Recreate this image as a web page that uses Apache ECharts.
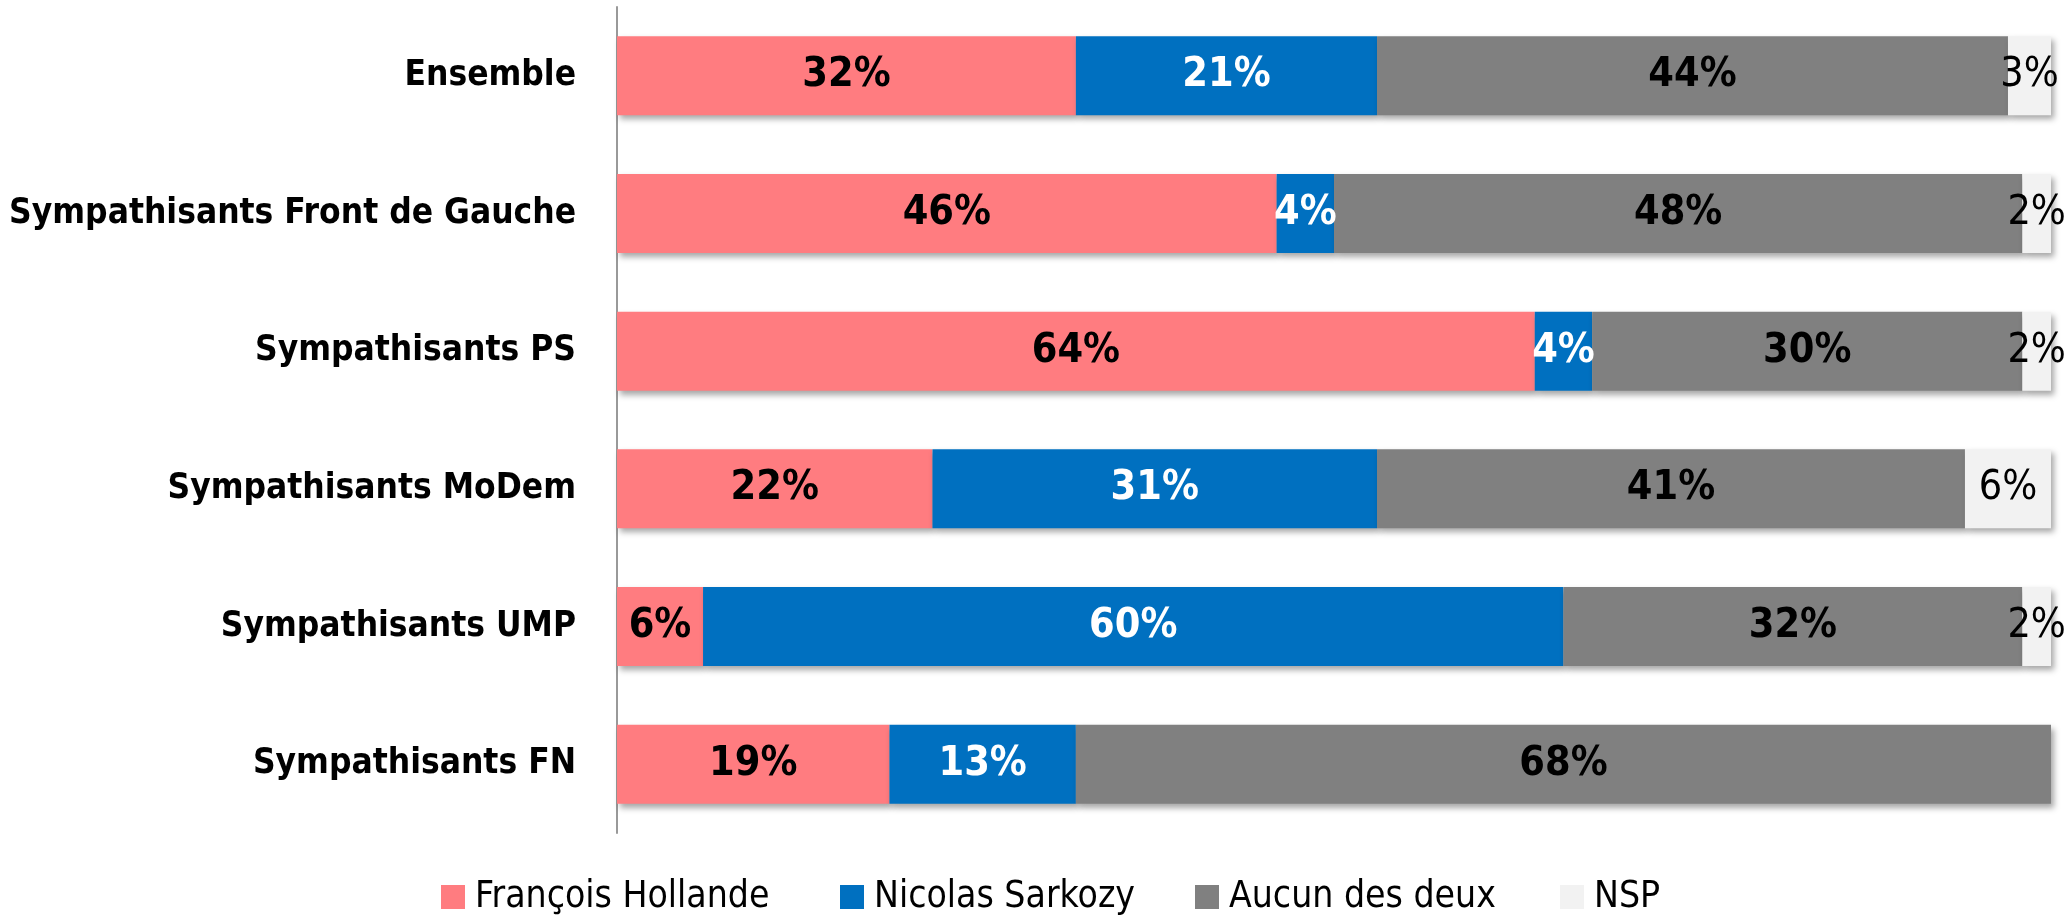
<!DOCTYPE html>
<html>
<head>
<meta charset="utf-8">
<script src="https://cdn.jsdelivr.net/npm/echarts@6/dist/echarts.min.js"></script>
<style>
  html, body { margin: 0; padding: 0; background: #fff; }
  #main { width: 2067px; height: 916px; }
</style>
</head>
<body>
<div id="main"></div>
<script>
// catégories (de haut en bas)
var categories = ['Ensemble', 'Sympathisants Front de Gauche', 'Sympathisants PS', 'Sympathisants MoDem', 'Sympathisants UMP', 'Sympathisants FN'];
var seriesNames = ['François Hollande', 'Nicolas Sarkozy', 'Aucun des deux', 'NSP'];
var hollande = [32, 46, 64, 22, 6, 19];
var sarkozy = [21, 4, 4, 31, 60, 13];
var aucun = [44, 48, 30, 41, 32, 68];
var nsp = [3, 2, 2, 6, 2, 0];

var font = '"Liberation Sans Narrow", "DejaVu Sans Condensed", sans-serif';

var chart = echarts.init(document.getElementById('main'));

function serie(name, data, color, labelColor, bold) {
    return {
        name: name,
        type: 'bar',
        stack: 'total',
        barWidth: 79,
        data: data,
        itemStyle: {
            color: color,
            shadowColor: 'rgba(0,0,0,0.35)',
            shadowBlur: 6,
            shadowOffsetX: 3,
            shadowOffsetY: 4
        },
        label: {
            show: true,
            position: 'inside',
            color: labelColor,
            fontFamily: font,
            fontSize: 41,
            fontWeight: bold ? 'bold' : 'normal',
            formatter: function (p) { return p.value ? p.value + '%' : ''; }
        }
    };
}

// une légende par entrée pour caler les positions
var legendLeft = [436, 835, 1190, 1555];
var legends = seriesNames.map(function (n, i) {
    return {
        top: 872,
        left: legendLeft[i],
        itemWidth: 24,
        itemHeight: 24,
        icon: 'rect',
        textStyle: { fontFamily: font, fontSize: 37, lineHeight: 40, color: '#000', padding: [0, 0, 0, 5] },
        data: [n]
    };
});

var option = {
    animation: false,
    grid: { left: 617, right: 16, top: 7, bottom: 83, containLabel: false, outerBoundsMode: 'none' },
    legend: legends,
    xAxis: { type: 'value', min: 0, max: 100, show: false },
    yAxis: {
        type: 'category',
        inverse: true,
        data: categories,
        axisLine: { show: true, lineStyle: { color: '#999', width: 2 } },
        axisTick: { show: false },
        axisLabel: { margin: 41, color: '#000', fontFamily: font, fontSize: 35, fontWeight: 'bold' }
    },
    series: [
        serie(seriesNames[0], hollande, '#FF7C80', '#000', true),
        serie(seriesNames[1], sarkozy, '#0070C0', '#fff', true),
        serie(seriesNames[2], aucun, '#808080', '#000', true),
        serie(seriesNames[3], nsp, '#F2F2F2', '#000', false)
    ]
};

chart.setOption(option);
</script>
</body>
</html>
